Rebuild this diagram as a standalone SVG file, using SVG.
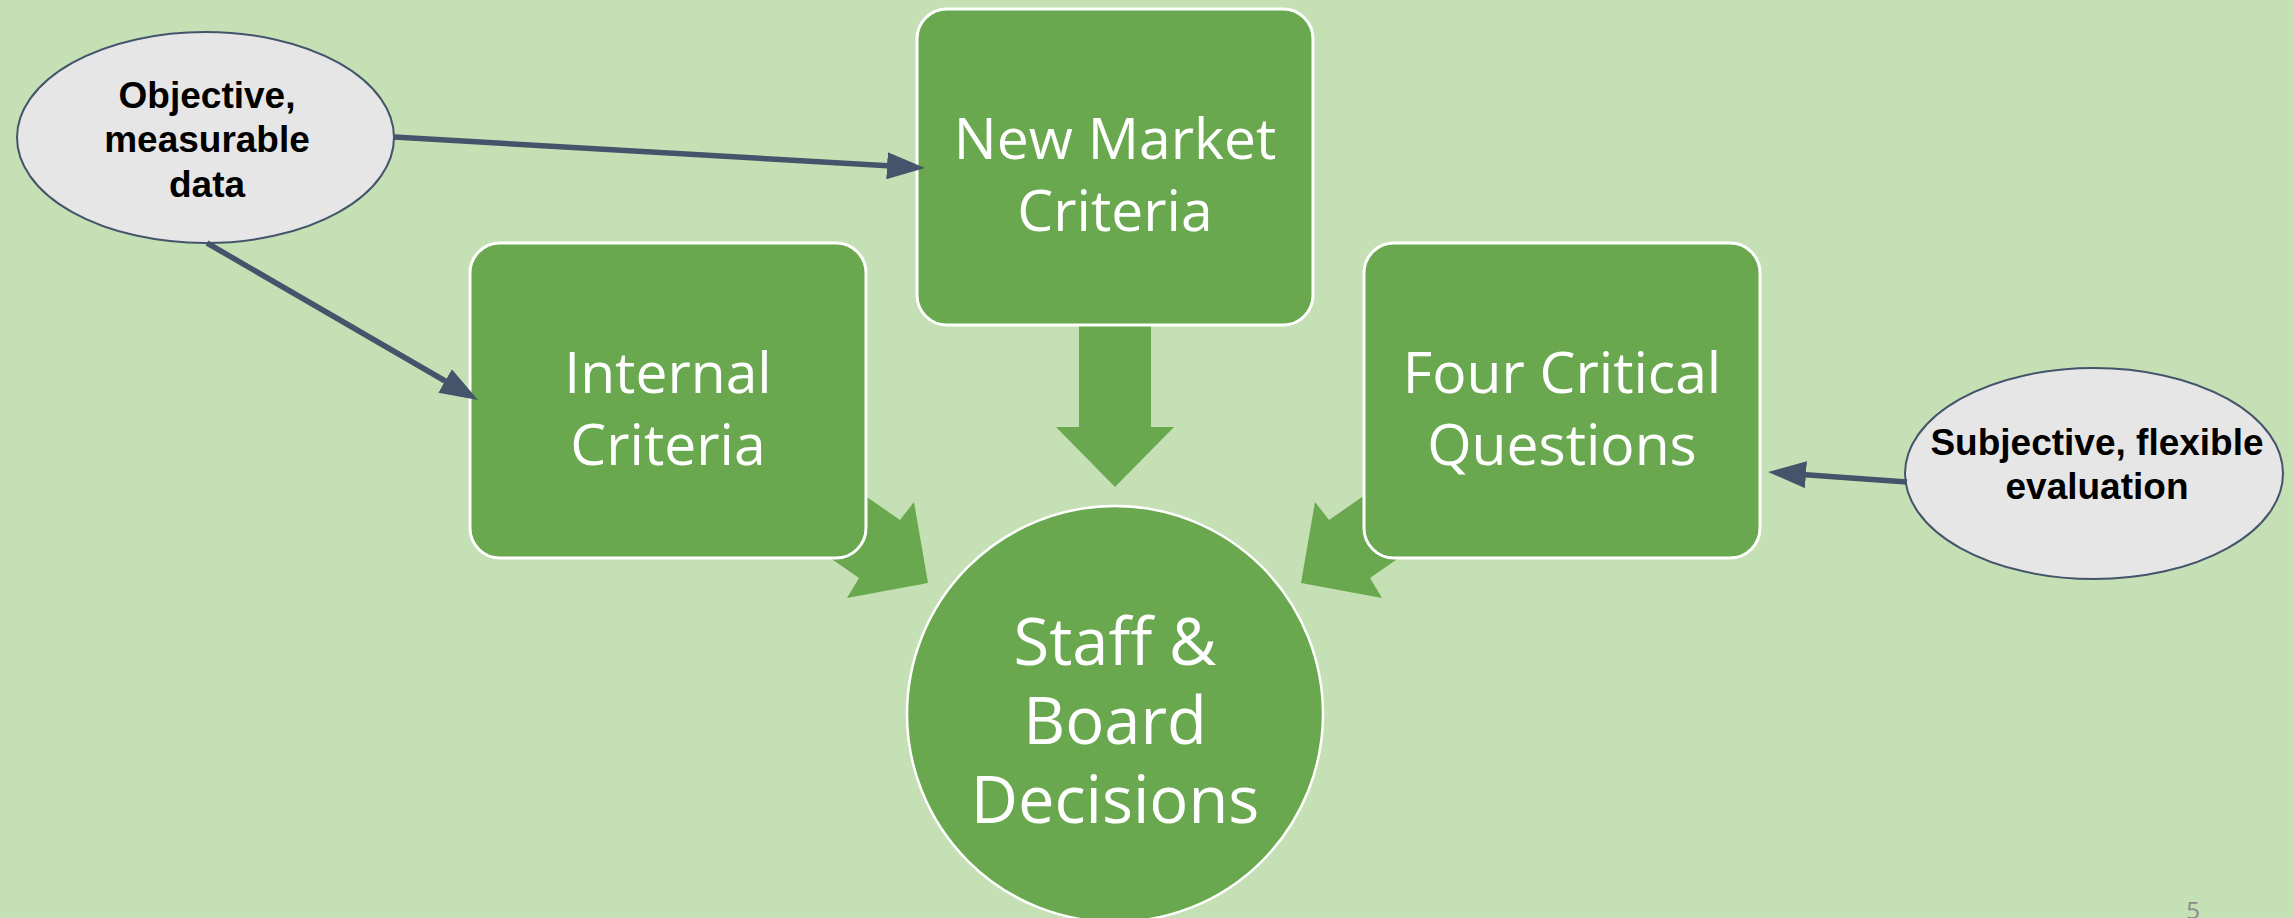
<svg xmlns="http://www.w3.org/2000/svg" width="2293" height="918" viewBox="0 0 2293 918">
<defs>
<style>
.bg{fill:#c5e0b4}
.box{fill:#6aa84f;stroke:#ffffff;stroke-width:3}
.blk{fill:#6aa84f}
.ell{fill:#e7e6e6;stroke:#44546a;stroke-width:2}
.ln{fill:none;stroke:#44546a;stroke-width:5.5}
.bt{font-family:"Open Sans","Noto Sans",sans-serif;fill:#ffffff;font-size:57px;text-anchor:middle}
.ct{font-family:"Open Sans","Noto Sans",sans-serif;fill:#ffffff;font-size:65px;text-anchor:middle}
.et{font-family:"Liberation Sans",Arial,sans-serif;font-weight:bold;fill:#000000;font-size:37px;text-anchor:middle}
.pg{font-family:"Open Sans","Noto Sans",sans-serif;fill:#8c8c8c;font-size:24px;text-anchor:middle}
</style>
<marker id="ah" markerUnits="userSpaceOnUse" markerWidth="38" markerHeight="27" refX="18" refY="13.5" orient="auto">
<path d="M0,0 L38,13.5 L0,27 z" fill="#44546a"/>
</marker>
</defs>
<rect class="bg" x="0" y="0" width="2293" height="918"/>
<g id="connectors-back">
<polygon class="blk" points="1079,318 1151,318 1151,427 1174,427 1115,487 1056,427 1079,427"/>
<polygon class="blk" points="818,463 900,520 914,502 928,583 847,598 859,578 777,521"/>
<polygon class="blk" points="1411,463 1329,520 1315,502 1301,583 1382,598 1370,578 1452,521"/>
</g>
<g id="node-new-market">
<rect class="box" x="917" y="9" width="396" height="316" rx="30" ry="30"/>
<text class="bt" x="1115" y="159">New Market</text>
<text class="bt" x="1115" y="231">Criteria</text>
</g>
<g id="node-internal">
<rect class="box" x="470" y="243" width="396" height="315" rx="30" ry="30"/>
<text class="bt" x="668" y="393">Internal</text>
<text class="bt" x="668" y="465">Criteria</text>
</g>
<g id="node-four-critical">
<rect class="box" x="1364" y="243" width="396" height="315" rx="30" ry="30"/>
<text class="bt" x="1562" y="393">Four Critical</text>
<text class="bt" x="1562" y="465">Questions</text>
</g>
<g id="node-staff-board">
<circle cx="1115" cy="714" r="208" fill="#6aa84f" stroke="#ffffff" stroke-width="2.5"/>
<text class="ct" x="1115" y="665">Staff &amp;</text>
<text class="ct" x="1115" y="744">Board</text>
<text class="ct" x="1115" y="823">Decisions</text>
</g>
<g id="node-objective">
<ellipse class="ell" cx="205.5" cy="137.5" rx="188.5" ry="105.5"/>
<text class="et" x="207" y="108">Objective,</text>
<text class="et" x="207" y="152">measurable</text>
<text class="et" x="207" y="197">data</text>
</g>
<g id="node-subjective">
<ellipse class="ell" cx="2094" cy="473.5" rx="189" ry="105.5"/>
<text class="et" x="2097" y="455">Subjective, flexible</text>
<text class="et" x="2097" y="499">evaluation</text>
</g>
<g id="connectors">
<line class="ln" x1="394" y1="137" x2="905" y2="166.8" marker-end="url(#ah)"/>
<line class="ln" x1="207" y1="243" x2="460.7" y2="390" marker-end="url(#ah)"/>
<line class="ln" x1="1907" y1="482" x2="1788" y2="473.4" marker-end="url(#ah)"/>
</g>
<text class="pg" x="2193" y="919">5</text>
</svg>
